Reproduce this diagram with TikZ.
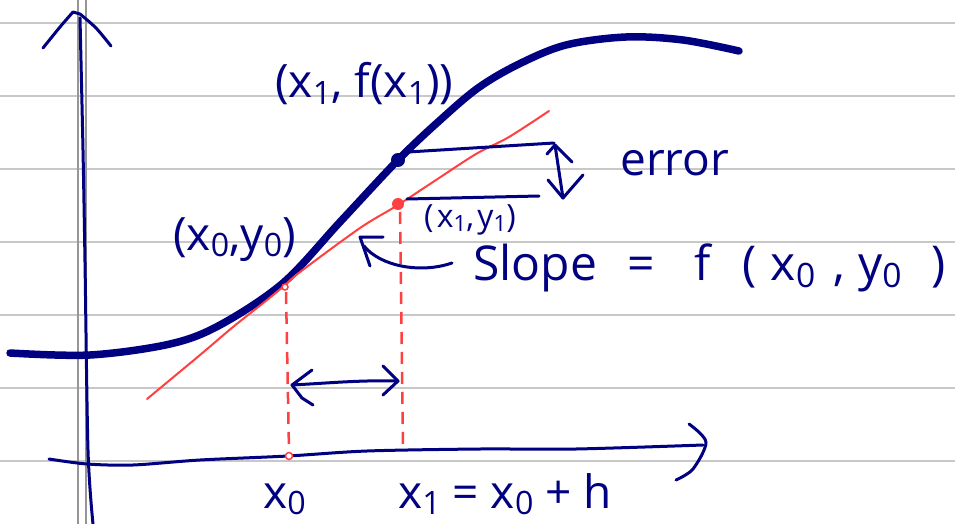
\documentclass[tikz,border=0pt]{standalone}
\usepackage{fontspec}
\setmainfont{Open Sans}
\usepackage{graphicx}
\definecolor{pen}{RGB}{0,0,128}
\definecolor{redpen}{RGB}{255,64,64}
\definecolor{rulegray}{RGB}{200,200,200}
\definecolor{margingray}{RGB}{150,150,150}
\newcommand\lo[1]{\raisebox{-0.15em}{\scalebox{0.7}{#1}}}
\begin{document}
\begin{tikzpicture}[x=1pt,y=-1pt,
  ink/.style={draw=pen,line width=3pt,line cap=round,line join=round},
  thickcurve/.style={draw=pen,line width=7.5pt,line cap=round,line join=round},
  redline/.style={draw=redpen,line width=2pt,line cap=round},
  reddash/.style={draw=redpen,line width=2.5pt,dash pattern=on 12pt off 8pt},
  lbl/.style={text=pen,inner sep=0pt,anchor=base west,font=\fontsize{46}{50}\selectfont},
]
\useasboundingbox (0,0) rectangle (955,524);
\fill[white] (0,0) rectangle (955,524);
% ruled paper
\foreach \y in {23,96,169,242,315,388,461}
  \draw[rulegray,line width=2pt] (0,\y) -- (955,\y);
\draw[margingray,line width=2pt] (78,0) -- (78,524);
\draw[margingray,line width=2pt] (86,0) -- (86,524);

% key points
\coordinate (P0) at (285,287);
\coordinate (P1) at (398,204);
\coordinate (Q1) at (398,160);
\coordinate (X0) at (289,456);
\coordinate (X1) at (403,450);
\coordinate (P0d) at (286,292);
\coordinate (X0u) at (289,451);
\coordinate (P1d) at (400,212);
\coordinate (Q1s) at (408,152);
\coordinate (P1s) at (407,199);

% axes
\draw[ink] plot[smooth] coordinates {(80,18) (83,150) (85,262) (88,450) (93,524)};
\draw[ink] plot[smooth] coordinates {(43,48) (60,27) (73,12)} -- (80,14)
  plot[smooth] coordinates {(80,14) (96,28) (111,46)};
\draw[ink] plot[smooth] coordinates {(49,459) (87,464) (133,465) (200,460) (288,456) (367,451) (480,449) (576,449) (703,445)};
\draw[ink] plot[smooth] coordinates {(689,424) (706,442) (693,469) (676,480)};

% function curve
\draw[thickcurve] plot[smooth,tension=0.55] coordinates {(10,353) (90,355) (170,344) (220,325) (283,283) (340,222) (398,160) (438,122) (478,88) (519,64) (566,45) (626,37) (683,40) (739,51)};

% tangent line
\draw[redline] plot[smooth] coordinates {(147,399) (200,355) (233,327) (267,300) (285,285) (300,272) (360,228) (398,205) (433,182) (476,154) (509,137) (549,111)};

% dashed verticals
\draw[reddash] (P0d) -- (X0u);
\draw[reddash] (P1d) -- (X1);
\draw[draw=redpen,line width=1.5pt,fill=white] (P0) circle (3);
\draw[draw=redpen,line width=1.5pt,fill=white] (X0) circle (3.5);
\fill[redpen] (P1) circle (6);
\fill[pen] (Q1) circle (7);

% horizontal levels
\coordinate (Q1r) at (554,143);
\coordinate (P1r) at (539,196);
\draw[ink] (Q1s) -- (Q1r);
\draw[ink] (P1s) -- (P1r);

% error arrow
\coordinate (Et) at (555,145);
\coordinate (Eb) at (563,198);
\draw[ink] (Et) -- (Eb);
\draw[ink] (547,154) -- (Et) -- (572,162);
\draw[ink] (548,180) -- (Eb) -- (583,175);

% h arrow
\coordinate (Hl) at (292,385);
\coordinate (Hr) at (398,381);
\draw[ink] (Hl) .. controls (330,383) and (360,380) .. (Hr);
\draw[ink] (312,370) -- (Hl) -- (302,398) -- (313,405);
\draw[ink] (383,366) -- (Hr) -- (383,395);

% slope pointer
\coordinate (St) at (360,237);
\draw[ink] (452,263) .. controls (420,274) and (380,266) .. (364,246);
\draw[ink] (383,237) -- (St) -- (370,266);

% labels
\node[lbl] (lq1) at (275,98) {(x\lo{1}, f(x\lo{1}))};
\node[lbl] (lp0) at (173,250) {(x\lo{0},y\lo{0})};
\node[lbl,font=\fontsize{32}{36}\selectfont\addfontfeature{LetterSpace=10}] (lp1) at (424,227) {(x\lo{1},y\lo{1})};
\node[lbl] (lerr) at (620,175) {error};
\node[lbl,font=\fontsize{48}{52}\selectfont] (lslope) at (473,280) {Slope\hspace{30pt}=\hspace{40pt}f\hspace{32pt}(\hspace{14pt}x\lo{0}\hspace{18pt},\hspace{13pt}y\lo{0}\hspace{30pt})};
\node[lbl] (lx0) at (263,508) {x\lo{0}};
\node[lbl] (lx1) at (398,508) {x\lo{1} = x\lo{0} + h};
\end{tikzpicture}
\end{document}
